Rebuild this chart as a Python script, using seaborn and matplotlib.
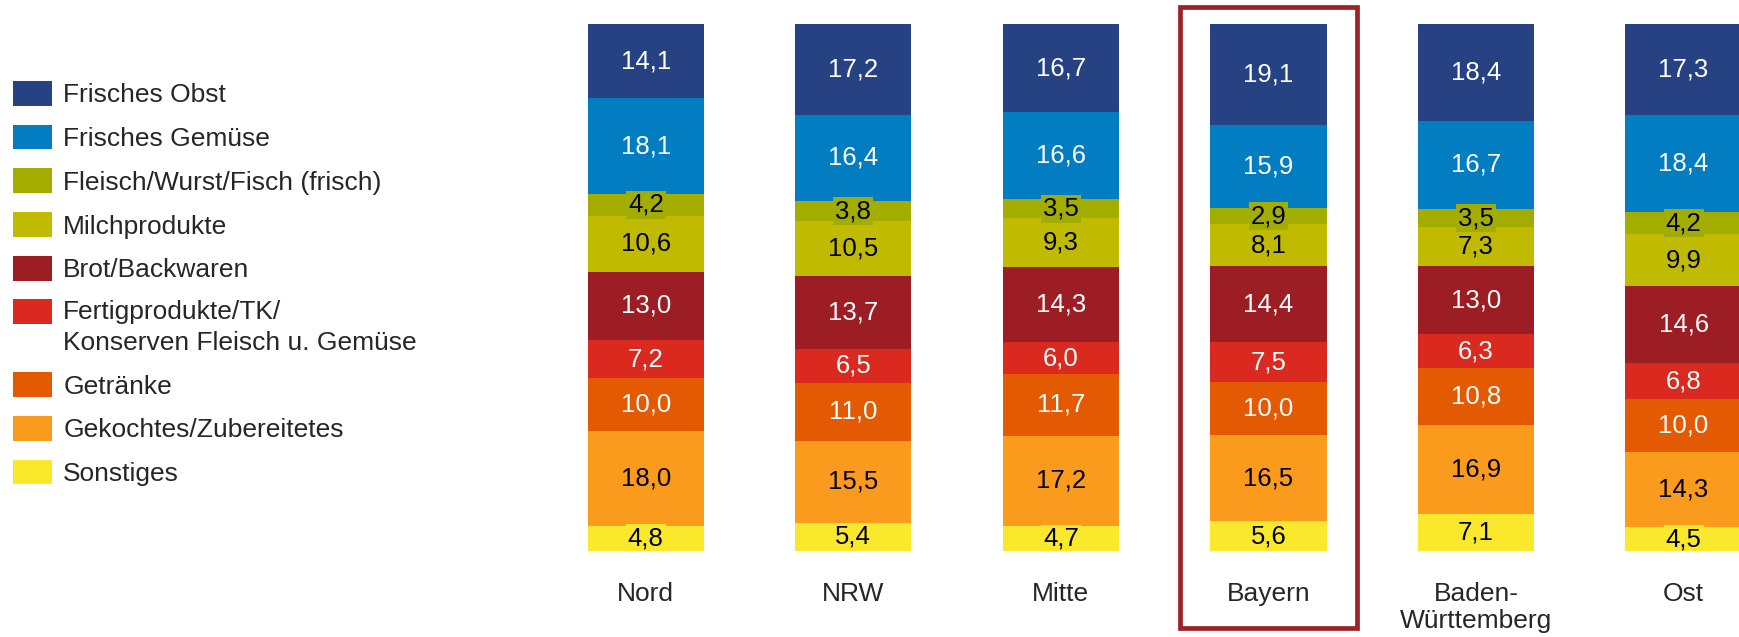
import numpy as np
import matplotlib
matplotlib.use("Agg")
import matplotlib.pyplot as plt
import matplotlib.patches as mpatches
from matplotlib.legend_handler import HandlerPatch
import seaborn as sns
import pandas as pd

# data (shares in %, stacked to 100)
regions = ["Nord", "NRW", "Mitte", "Bayern", "Baden-\nWürttemberg", "Ost"]
categories = ["Frisches Obst", "Frisches Gemüse", "Fleisch/Wurst/Fisch (frisch)",
              "Milchprodukte", "Brot/Backwaren",
              "Fertigprodukte/TK/\nKonserven Fleisch u. Gemüse",
              "Getränke", "Gekochtes/Zubereitetes", "Sonstiges"]
obst = [14.1, 17.2, 16.7, 19.1, 18.4, 17.3]
gemuese = [18.1, 16.4, 16.6, 15.9, 16.7, 18.4]
fleisch = [4.2, 3.8, 3.5, 2.9, 3.5, 4.2]
milch = [10.6, 10.5, 9.3, 8.1, 7.3, 9.9]
brot = [13.0, 13.7, 14.3, 14.4, 13.0, 14.6]
fertig = [7.2, 6.5, 6.0, 7.5, 6.3, 6.8]
getraenke = [10.0, 11.0, 11.7, 10.0, 10.8, 10.0]
gekochtes = [18.0, 15.5, 17.2, 16.5, 16.9, 14.3]
sonstiges = [4.8, 5.4, 4.7, 5.6, 7.1, 4.5]

colors = ["#264282", "#027DC2", "#A2AD00", "#C0BB00", "#9C1E24",
          "#DA2A1F", "#E35A03", "#FA9B1E", "#FAE82C"]
white_text = [True, True, False, False, True, True, True, False, False]
highlight = "Bayern"

values = [obst, gemuese, fleisch, milch, brot, fertig, getraenke, gekochtes, sonstiges]

# long table with cumulative tops (stack from bottom = Sonstiges)
rows = []
for r_i, reg in enumerate(regions):
    top = sum(v[r_i] for v in values)
    for c_i, cat in enumerate(categories):
        val = values[c_i][r_i]
        rows.append({"Region": reg, "Kategorie": cat, "Wert": val, "Top": top})
        top -= val
df = pd.DataFrame(rows)

sns.set_style("white")
plt.rcParams["font.family"] = ["Liberation Sans", "DejaVu Sans"]

W, H = 1739, 637
fig = plt.figure(figsize=(W / 100, H / 100), dpi=100)
ax = fig.add_axes([542 / W, 86 / H, 1 - 542 / W, 527 / H])

bar_w = 0.56
# draw cumulative bars from the top layer downwards so each covers the one before
for c_i, cat in enumerate(categories):
    sub = df[df["Kategorie"] == cat]
    sns.barplot(data=sub, x="Region", y="Top", order=regions, color=colors[c_i],
                saturation=1, width=bar_w, linewidth=0, ax=ax, errorbar=None)

# value labels
for c_i, cat in enumerate(categories):
    sub = df[df["Kategorie"] == cat]
    for r_i, reg in enumerate(regions):
        row = sub[sub["Region"] == reg].iloc[0]
        y = row["Top"] - row["Wert"] / 2
        txt = f"{row['Wert']:.1f}".replace(".", ",")
        ax.text(r_i, y, txt, ha="center", va="center", fontsize=18.5,
                color="white" if white_text[c_i] else "black",
                bbox=dict(facecolor=colors[c_i], edgecolor="none", pad=1.5),
                clip_on=True)

ax.set_xlim(-0.5, 5.267)
ax.set_ylim(0, 100)
ax.set_xlabel("")
ax.set_ylabel("")
ax.set_yticks([])
ax.tick_params(axis="x", length=0, pad=22, labelsize=19)
sns.despine(ax=ax, left=True, bottom=True)

# red frame around Bayern
b_i = regions.index(highlight)
frame = mpatches.Rectangle((b_i - 0.428, -14.6), 0.856, 117.8, fill=False,
                           edgecolor="#9C2228", linewidth=3.4, clip_on=False,
                           transform=ax.transData)
ax.add_patch(frame)


# legend patch for two-line label sits next to the first line
def top_aligned(legend, orig_handle, xdescent, ydescent, width, height, fontsize):
    return mpatches.Rectangle((-xdescent, -ydescent + 0.62 * fontsize), width, height)


handles = [mpatches.Patch(facecolor=c, edgecolor="none") for c in colors]
handler_map = {handles[5]: HandlerPatch(patch_func=top_aligned)}
leg = fig.legend(handles, categories, loc="upper left", handler_map=handler_map,
                 bbox_to_anchor=(13 / W, 1 - 81 / H), frameon=False, fontsize=19,
                 handlelength=1.48, handleheight=1.06, handletextpad=0.42,
                 labelspacing=0.66, borderpad=0, borderaxespad=0)
for t in leg.get_texts():
    t.set_linespacing(1.38)

fig.savefig("out.png", dpi=100)
